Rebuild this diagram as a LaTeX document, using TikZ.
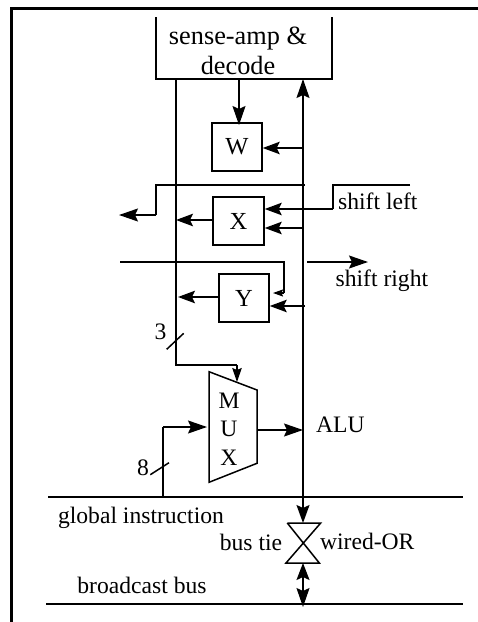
\documentclass[tikz,border=0pt]{standalone}
\usepackage{fontspec}
\setmainfont{Liberation Serif}
\usetikzlibrary{arrows.meta}
\tikzset{
 wire/.style={line width=1.5pt},
 big/.style={wire,-{Stealth[length=19pt,width=13pt,inset=3pt]}},
 med/.style={wire,-{Stealth[length=17pt,width=12.5pt,inset=3pt]}},
 small/.style={wire,-{Stealth[length=10pt,width=7pt,inset=1.5pt]}},
 boxn/.style={draw,line width=1.5pt,inner sep=0pt,font=\fontsize{24.5}{26}\selectfont},
 lab/.style={inner sep=0pt,font=\fontsize{23.6}{26}\selectfont},
 frameline/.style={line width=2.8pt}
}
\begin{document}
\begin{tikzpicture}[x=1pt,y=-1pt]
\useasboundingbox (0,0) rectangle (478,622);
% frame
\coordinate (fa) at (478,8.5); \coordinate (fb) at (11.5,8.5); \coordinate (fc) at (11.5,622);
\draw[line width=3.6pt] (fa) -- (10,8.5);
\draw[frameline] (fb) -- (fc);
% sense-amp
\coordinate (s1) at (156,17); \coordinate (s2) at (156,79); \coordinate (s3) at (332,79); \coordinate (s4) at (332,17);
\draw[wire] (s1) -- (s2) -- (s3) -- (s4);
\node[lab,align=center,font=\fontsize{26.3}{29.5}\selectfont] (sense) at (238,51) {sense-amp \&\\decode};
% boxes
\node[boxn,minimum width=50pt,minimum height=48pt,text depth=2pt] (W) at (237,147) {W};
\node[boxn,minimum width=51pt,minimum height=48pt] (X) at (238.5,221) {X};
\node[boxn,minimum width=50pt,minimum height=48pt] (Y) at (244,298) {Y};
% MUX
\coordinate (m1) at (209,371.7); \coordinate (m2) at (257,390); \coordinate (m3) at (257,463.3); \coordinate (m4) at (209,482.3);
\draw[wire] (m1) -- (m2) -- (m3) -- (m4) -- cycle;
\node[lab,align=center,font=\fontsize{23.6}{28.3}\selectfont] (mux) at (229,429) {M\\U\\X};
% buses
\coordinate (lt) at (176,79); \coordinate (lc) at (176,365); \coordinate (lm) at (237,365); \coordinate (mt) at (237,382);
\draw[wire] (lt) -- (lc) -- (lm);
\draw[wire,-{Stealth[length=14pt,width=9.5pt,inset=2pt]}] (lm) -- (mt);
\coordinate (rb) at (303,523); \coordinate (rt) at (303,79);
\draw[wire,{Stealth[length=18pt,width=13pt,inset=3pt]}-{Stealth[length=19pt,width=13pt,inset=3pt]}] (rb) -- (rt);
% W
\coordinate (wt) at (239,79); \coordinate (wi) at (239,125);
\draw[big] (wt) -- (wi);
\coordinate (wr) at (303,148);
\draw[med] (wr) -- (W.east |- wr);
% carry out
\coordinate (c1) at (305,185); \coordinate (c2) at (156,185); \coordinate (c3) at (156,215); \coordinate (c4) at (119,215);
\draw[wire] (c1) -- (c2) -- (c3);
\draw[big] (c3) -- (c4);
% shift left
\coordinate (sl1) at (410,185); \coordinate (sl2) at (333,185); \coordinate (sl3) at (333,209);
\draw[wire] (sl1) -- (sl2) -- (sl3);
\draw[med] (sl3) -- (X.east |- sl3);
\coordinate (xr) at (303,228);
\draw[med] (xr) -- (X.east |- xr);
\coordinate (xl) at (176,220);
\draw[med] (X.west |- xl) -- (xl);
\node[lab,anchor=base west] (shl) at (338,209) {shift left};
% y line
\coordinate (y1) at (120,262); \coordinate (y2) at (284,262); \coordinate (y3) at (284,293); \coordinate (y4) at (273,293);
\draw[wire] (y1) -- (y2) -- (y3);
\draw[small] (y3) -- (y4);
\coordinate (sr1) at (307,262); \coordinate (sr2) at (368,262);
\draw[big] (sr1) -- (sr2);
\node[lab,anchor=base west] (shr) at (335.5,286) {shift right};
\coordinate (yl) at (178,297); \coordinate (yr) at (305,306);
\draw[med] (Y.west |- yl) -- (yl);
\draw[med] (yr) -- (Y.east |- yr);
% slashes
\coordinate (a3) at (166.7,349.3); \coordinate (b3) at (183.7,333.3);
\draw[wire] (a3) -- (b3);
\node[lab] (n3) at (160.5,332) {3};
\coordinate (a8) at (150.3,474.7); \coordinate (b8) at (169,462.7);
\draw[wire] (a8) -- (b8);
\node[lab] (n8) at (143,467.7) {8};
% mux input/output
\coordinate (gi) at (163,497); \coordinate (gc) at (163,427); \coordinate (mi) at (207,427);
\draw[wire] (gi) -- (gc);
\draw[big] (gc) -- (mi);
\coordinate (mo) at (303,430);
\draw[big] (m2 |- mo) -- (mo);
\node[lab,anchor=base west] (alu) at (316,432) {ALU};
% long buses
\coordinate (g1) at (48,497); \coordinate (g2) at (463,497);
\draw[wire] (g1) -- (g2);
\coordinate (h1) at (46,604); \coordinate (h2) at (463,604);
\draw[wire] (h1) -- (h2);
\node[lab,anchor=base] (gl) at (141,523) {global instruction};
\node[lab,anchor=base] (bb) at (142,593) {broadcast bus};
% bus tie
\coordinate (t1) at (287.3,523); \coordinate (t2) at (320.7,523); \coordinate (t3) at (286,563); \coordinate (t4) at (319.3,563);
\draw[wire] (t1) -- (t2) -- (t3) -- (t4) -- (t1);
\node[lab,anchor=base] (bt) at (251,550) {bus tie};
\node[lab,anchor=base] (wo) at (367.3,549) {wired-OR};
\coordinate (d1) at (303,563); \coordinate (d2) at (303,607);
\draw[wire,{Stealth[length=17pt,width=13pt,inset=3pt]}-{Stealth[length=19pt,width=13pt,inset=3pt]}] (d1) -- (d2);
\end{tikzpicture}
\end{document}
